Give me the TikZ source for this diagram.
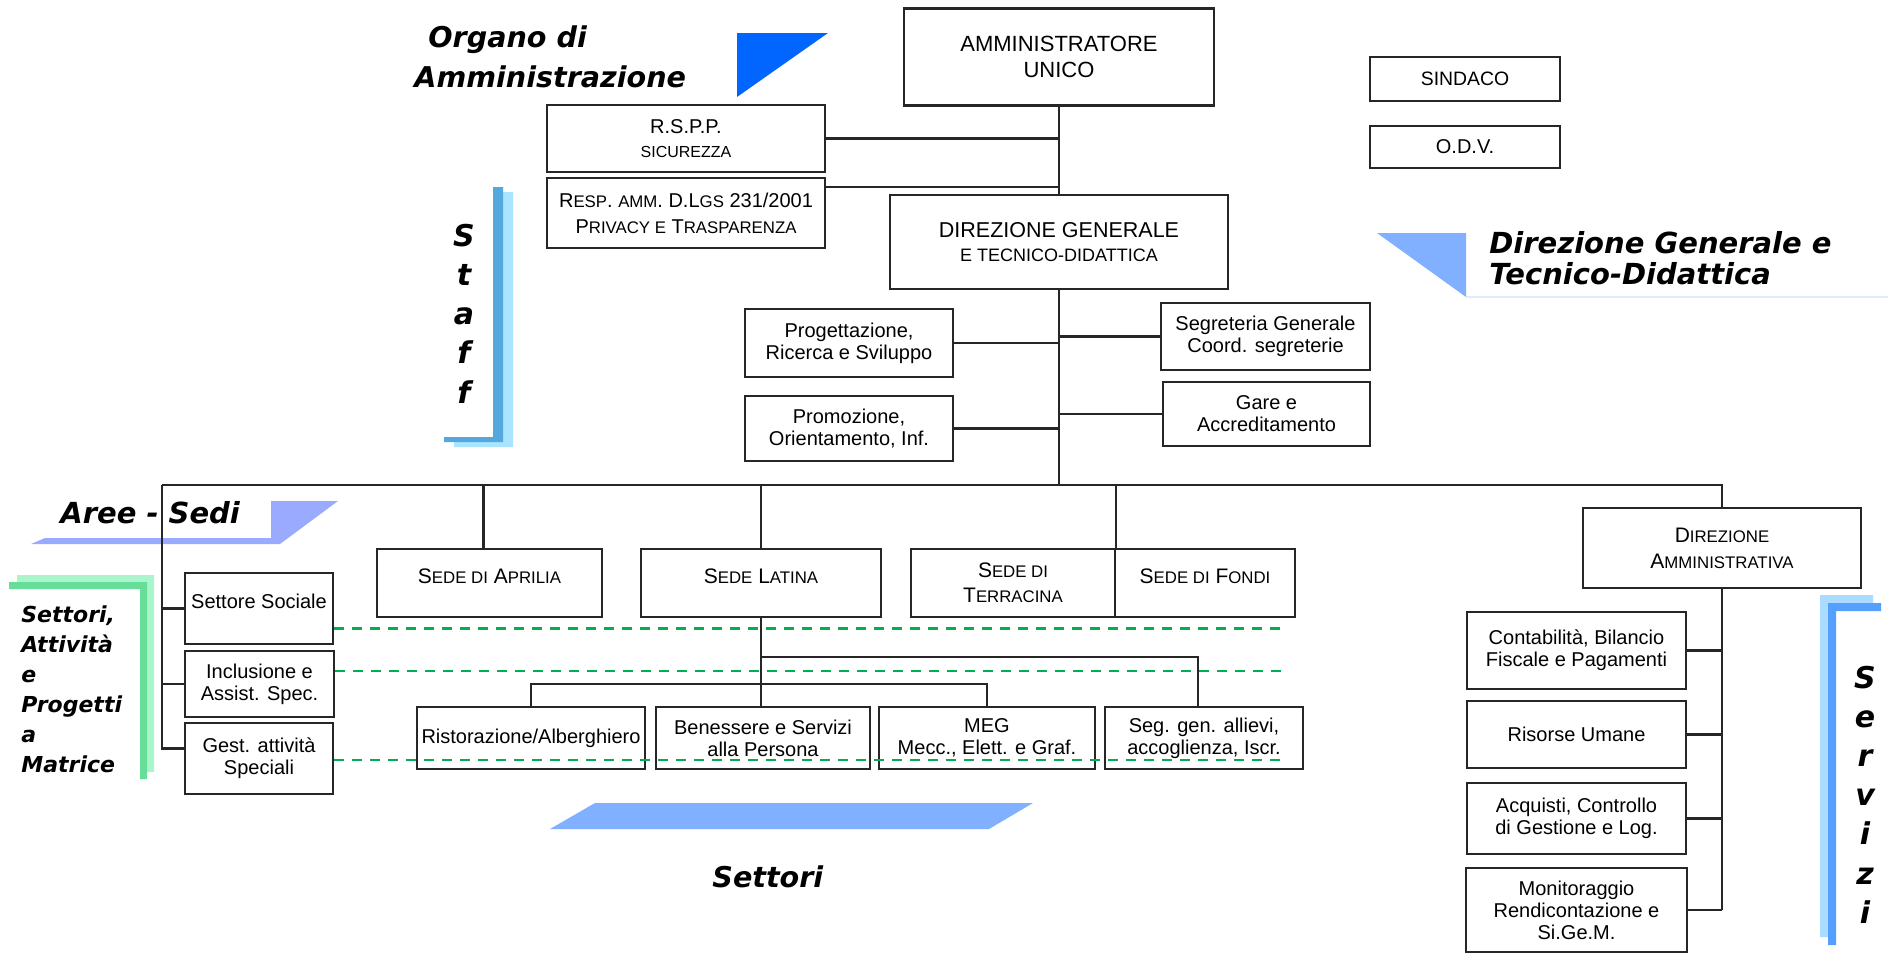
\documentclass[tikz,border=0pt]{standalone}
\usepackage{fontspec}
\setmainfont{Liberation Sans}
\newfontfamily\labelfont{DejaVu Sans}[BoldItalicFont={DejaVu Sans Bold Oblique}]

\definecolor{orgblue}{RGB}{0,102,255}
\definecolor{dgblue}{RGB}{128,176,255}
\definecolor{sedblue}{RGB}{153,170,255}
\definecolor{faintblue}{RGB}{225,235,255}
\definecolor{staffdark}{RGB}{85,168,221}
\definecolor{stafflight}{RGB}{170,229,255}
\definecolor{servdark}{RGB}{85,160,255}
\definecolor{servlight}{RGB}{170,220,255}
\definecolor{matdark}{RGB}{102,221,153}
\definecolor{matlight}{RGB}{170,245,204}
\definecolor{dashgreen}{RGB}{0,176,80}
\definecolor{linegray}{RGB}{38,38,38}

\newcommand{\lowcap}[1]{{\fontsize{8.4}{10}\selectfont #1}}

\begin{document}
\begin{tikzpicture}[x=0.5pt,y=-0.5pt]
  \tikzset{box/.style 2 args = {draw=linegray, line width=1.15pt, fill=white, align=center, inner sep=0pt,
      minimum width=#1*0.5pt, minimum height=#2*0.5pt, font=\fontsize{10}{11}\selectfont}}
  \tikzset{link/.style = {draw=linegray, line width=1.1pt}}
  \tikzset{matrixline/.style = {dashgreen, line width=1.4pt, dash pattern=on 5pt off 4pt}}
  \tikzset{title/.style = {font=\labelfont\bfseries\itshape\fontsize{14.3}{20}\selectfont, inner sep=0pt, align=left}}

  \fill[white] (0,0) rectangle (1888,953);
  \useasboundingbox (0,0) rectangle (1888,953);

  % coloured bands
  \fill[orgblue] (737,33) -- (828,33) -- (737,97) -- cycle;
  \fill[dgblue] (1377,233) -- (1466,233) -- (1466,297) -- cycle;
  \draw[faintblue, line width=0.6pt] (1466,297) -- (1888,297);
  \fill[sedblue] (45,538) -- (271,538) -- (271,501) -- (338,501) -- (280,544) -- (31,544) -- cycle;
  \fill[dgblue] (550,829) -- (595,803) -- (1033,803) -- (989,829) -- cycle;
  \fill[stafflight] (503,192) rectangle (513,447) (454,442) rectangle (513,447);
  \fill[staffdark] (493,187) rectangle (503,442) (444,437) rectangle (503,442);
  \fill[servlight] (1820,595) rectangle (1828,937) (1820,595) rectangle (1873,603);
  \fill[servdark] (1828,603) rectangle (1836,945) (1828,603) rectangle (1881,611);
  \fill[matlight] (147,575) rectangle (154,772) (17,575) rectangle (154,582);
  \fill[matdark] (140,582) rectangle (147,779) (9,582) rectangle (147,589);

  % vertici
  \node[box={310}{97}, font=\fontsize{11}{13}\selectfont] (amm) at (1059,57) {AMMINISTRATORE\\UNICO};
  \node[box={190}{44}, font=\fontsize{9.7}{11}\selectfont] (sind) at (1465,79) {SINDACO};
  \node[box={190}{42}] (odv) at (1465,147) {O.D.V.};
  \node[box={278}{67}, font=\fontsize{10}{12}\selectfont] (rspp) at (686,138.5) {R.S.P.P.\\{\fontsize{8}{10}\selectfont SICUREZZA}};
  \node[box={278}{70}, font=\fontsize{10}{13}\selectfont] (resp) at (686,213)
    {R\lowcap{ESP}. \lowcap{AMM}. D.L\lowcap{GS} 231/2001\\P\lowcap{RIVACY E} T\lowcap{RASPARENZA}};
  \node[box={338}{94}, font=\fontsize{10.75}{12}\selectfont] (dg) at (1059,242)
    {DIREZIONE GENERALE\\{\fontsize{9}{11}\selectfont E TECNICO-DIDATTICA}};

  % direzione generale
  \node[box={208}{68}] (prog) at (849,343) {Progettazione,\\Ricerca e Sviluppo};
  \node[box={208}{65}] (prom) at (849,428.5) {Promozione,\\Orientamento, Inf.};
  \node[box={209}{67}] (segr) at (1265.5,336.5) {Segreteria Generale\\Coord. segreterie};
  \node[box={207}{64}] (gare) at (1266.5,414) {Gare e\\Accreditamento};

  % sedi
  \node[box={225}{68}, text depth=7pt, font=\fontsize{10.5}{12.5}\selectfont] (apr) at (489.5,583) {S\lowcap{EDE DI} A\lowcap{PRILIA}};
  \node[box={240}{68}, text depth=7pt, font=\fontsize{10.5}{12.5}\selectfont] (lat) at (761,583) {S\lowcap{EDE} L\lowcap{ATINA}};
  \node[box={204}{68}, font=\fontsize{10.5}{12.5}\selectfont] (ter) at (1013,583) {S\lowcap{EDE DI}\\T\lowcap{ERRACINA}};
  \node[box={180}{68}, text depth=7pt, font=\fontsize{10.5}{12.5}\selectfont] (fon) at (1205,583) {S\lowcap{EDE DI} F\lowcap{ONDI}};

  % matrice
  \node[box={148}{71}, text depth=7pt] (sett) at (259,608.5) {Settore Sociale};
  \node[box={149}{66}] (incl) at (259.5,684) {Inclusione e\\Assist. Spec.};
  \node[box={148}{71}] (gest) at (259,758.5) {Gest. attività\\Speciali};

  % settori
  \node[box={228}{62}] (rist) at (531,738) {Ristorazione/Alberghiero};
  \node[box={214}{62}] (ben) at (763,738) {Benessere e Servizi\\alla Persona};
  \node[box={216}{62}] (meg) at (987,738) {MEG\\Mecc., Elett. e Graf.};
  \node[box={198}{62}] (seg) at (1204,738) {Seg. gen. allievi,\\accoglienza, Iscr.};

  % servizi
  \node[box={278}{80}, font=\fontsize{10.5}{13}\selectfont] (dam) at (1722,548) {D\lowcap{IREZIONE}\\A\lowcap{MMINISTRATIVA}};
  \node[box={219}{77}] (cont) at (1576.5,650.5) {Contabilità, Bilancio\\Fiscale e Pagamenti};
  \node[box={219}{67}] (ris) at (1576.5,734.5) {Risorse Umane};
  \node[box={219}{71}] (acq) at (1576.5,818.5) {Acquisti, Controllo\\di Gestione e Log.};
  \node[box={221}{84}] (mon) at (1576.5,910) {Monitoraggio\\Rendicontazione e\\Si.Ge.M.};

  % collegamenti
  \coordinate (barL) at (162,485);
  \coordinate (barR) at (1722,485);
  \coordinate (jseg) at (761,657);
  \coordinate (jsec) at (761,684);
  \draw[link] (amm.south) -- (dg.north);
  \draw[link] (rspp.east) -- (rspp.east -| amm.south);
  \draw[link] ([yshift=13pt]resp.east) -- ([yshift=13pt]resp.east -| amm.south);
  \foreach \n in {prog,prom} \draw[link] (\n.east) -- (\n.east -| dg.south);
  \foreach \n in {segr,gare} \draw[link] (\n.west) -- (\n.west -| dg.south);
  \draw[link] (dg.south) -- (dg.south |- barL);
  \draw[link] (barL) -- (barR) -- (dam.north);
  \draw[link] ([xshift=-3pt]apr.north) -- ([xshift=-3pt]apr.north |- barL);
  \draw[link] (lat.north) -- (lat.north |- barL);
  \draw[link] (ter.north east) -- (ter.north east |- barL);
  \draw[link] (barL) |- ([yshift=5pt]gest.west);
  \foreach \n in {sett,incl} \draw[link] (\n.west) -- (\n.west -| barL);
  \draw[link] (lat.south) -- (lat.south |- ben.north);
  \draw[link] (jseg) -| ([xshift=-3pt]seg.north);
  \draw[link] (rist.north) |- (jsec) -| (meg.north);
  \draw[link] (dam.south) -- (dam.south |- mon.east);
  \foreach \n in {cont,ris,acq,mon} \draw[link] (\n.east) -- (\n.east -| dam.south);

  % linee di matrice
  \draw[matrixline] ([yshift=-10pt]sett.east) -- ++(947,0);
  \draw[matrixline] ([yshift=6.5pt]incl.east) -- ++(952,0);
  \draw[matrixline] ([yshift=-0.75pt]gest.east) -- ++(953,0);

  % etichette
  \node[title, anchor=north west] (organo) at (414,25) {\hspace*{7pt}Organo di\\Amministrazione};
  \node[title, anchor=north west, font=\labelfont\bfseries\itshape\fontsize{14.5}{15.5}\selectfont] (dirlab) at (1489,231)
    {Direzione Generale e\\Tecnico-Didattica};
  \node[title, anchor=base west, font=\labelfont\bfseries\itshape\fontsize{14.5}{15}\selectfont] (sedilab) at (60,523) {Aree - Sedi};
  \node[title, anchor=base west] (settlab) at (712,887) {Settori};
  \node[title, anchor=north west, font=\labelfont\bfseries\itshape\fontsize{11}{15}\selectfont] (matlab) at (21,605)
    {Settori,\\Attività\\e\\Progetti\\a\\Matrice};
  \foreach \ch [count=\i] in {S,t,a,f,f}
    \node[title, anchor=base, font=\labelfont\bfseries\itshape\fontsize{15}{15}\selectfont] (staff\i) at (464,{207+39.2*\i}) {\ch};
  \foreach \ch [count=\i] in {S,e,r,v,i,z,i}
    \node[title, anchor=base, font=\labelfont\bfseries\itshape\fontsize{15}{15}\selectfont] (serv\i) at (1865,{648.8+39.2*\i}) {\ch};
\end{tikzpicture}
\end{document}
